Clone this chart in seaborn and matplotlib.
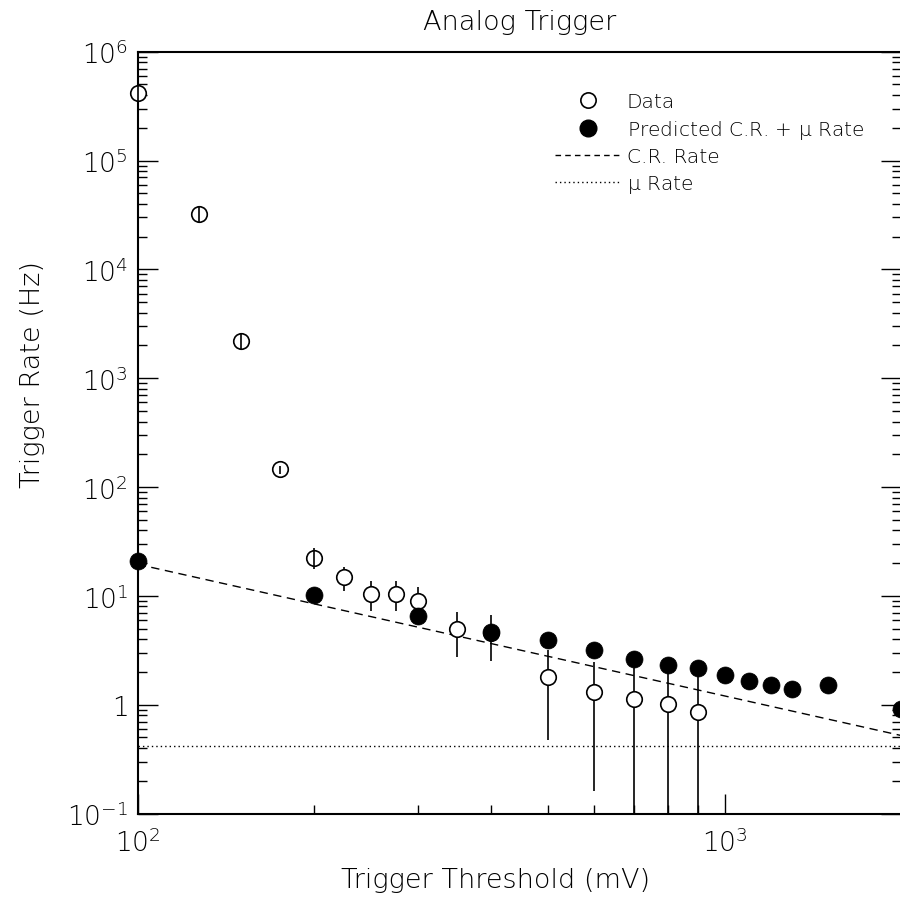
import matplotlib
matplotlib.use("Agg")
import matplotlib.pyplot as plt
from matplotlib import font_manager as fm
from matplotlib.lines import Line2D
from matplotlib.ticker import FixedLocator, FixedFormatter, LogLocator, NullFormatter
import seaborn as sns

# Measured trigger rates (open circles) with their error bars
data_threshold = [100, 127, 150, 175, 200, 225, 250, 275, 300, 350, 400, 500, 600, 700, 800, 900]
data_rate = [4.15e5, 3.24e4, 2220, 145, 22.5, 14.8, 10.4, 10.4, 9.0, 4.95, 4.6, 1.81, 1.32, 1.12, 1.01, 0.857]
data_err = [7.5e4, 5800, 400, 12, 4.9, 3.8, 3.2, 3.2, 3.0, 2.2, 2.1, 1.34, 1.16, 1.05, 1.0, 0.96]

# Predicted cosmic-ray + muon rate (filled circles)
pred_threshold = [100, 200, 300, 400, 500, 600, 700, 800, 900, 1000, 1100, 1200, 1300, 1500, 2000]
pred_rate = [20.7, 10.2, 6.47, 4.67, 3.95, 3.16, 2.64, 2.33, 2.17, 1.87, 1.66, 1.51, 1.38, 1.51, 0.913]

# Cosmic-ray rate (power law, straight in log-log) and constant muon rate
cr_threshold = [100, 2000]
cr_rate = [19.5, 0.52]
mu_threshold = [100, 2000]
mu_rate = [0.415, 0.415]

y_tick_values = [1e-1, 1, 1e1, 1e2, 1e3, 1e4, 1e5, 1e6]
y_tick_labels = [r"$10^{-1}$", r"$1$", r"$10^{1}$", r"$10^{2}$", r"$10^{3}$",
                 r"$10^{4}$", r"$10^{5}$", r"$10^{6}$"]
x_tick_values = [100, 1000]
x_tick_labels = [r"$10^{2}$", r"$10^{3}$"]

sns.set_theme(style="ticks")

# Prefer a wide, light sans-serif face when one is installed
family, weight = "DejaVu Sans", 400
choices = ["DejaVu Sans", "DejaVu Sans Light", "Open Sans", "Open Sans Light",
           "Lato", "Lato Light", "Roboto"]
for name in choices:
    found = [f for f in fm.fontManager.ttflist
             if f.name == name and isinstance(f.weight, int) and f.weight <= 300
             and f.style == "normal"]
    if found:
        family, weight = name, found[0].weight
        break

plt.rcParams["font.family"] = [family, "DejaVu Sans"]
plt.rcParams["font.weight"] = weight
plt.rcParams["mathtext.fontset"] = "custom"
plt.rcParams["mathtext.rm"] = f"{family}:weight={weight}"
plt.rcParams["mathtext.it"] = f"{family}:weight={weight}"
plt.rcParams["mathtext.default"] = "rm"
for key in ["text.color", "axes.labelcolor", "xtick.labelcolor", "ytick.labelcolor"]:
    plt.rcParams[key] = "black"

fig = plt.figure(figsize=(9.0, 9.03), dpi=100)
ax = fig.add_axes([0.153, 0.098, 0.8486, 0.8436])
ax.set_xscale("log")
ax.set_yscale("log")

# Reference lines
sns.lineplot(x=cr_threshold, y=cr_rate, ax=ax, color="black", linewidth=1.0, zorder=1)
ax.lines[-1].set_dashes([6, 4])
sns.lineplot(x=mu_threshold, y=mu_rate, ax=ax, color="black", linewidth=1.0, zorder=1)
ax.lines[-1].set_dashes([1, 2.2])

# Error bars: large ones sit behind the markers, tiny ones are drawn across them
small = [i for i, (v, e) in enumerate(zip(data_rate, data_err)) if e / v < 0.25]
large = [i for i in range(len(data_rate)) if i not in small]
ax.errorbar([data_threshold[i] for i in large], [data_rate[i] for i in large],
            yerr=[data_err[i] for i in large], fmt="none", ecolor="black",
            elinewidth=1.2, capsize=0, zorder=2)
ax.errorbar([data_threshold[i] for i in small], [data_rate[i] for i in small],
            yerr=[data_err[i] for i in small], fmt="none", ecolor="black",
            elinewidth=1.2, capsize=0, zorder=5, clip_on=False)

sns.scatterplot(x=data_threshold, y=data_rate, ax=ax, marker="o", s=125,
                color="white", edgecolor="black", linewidth=1.2, zorder=3, clip_on=False)
sns.scatterplot(x=pred_threshold, y=pred_rate, ax=ax, marker="o", s=150,
                color="black", edgecolor="black", linewidth=0.5, zorder=4, clip_on=False)

ax.set_xlim(100, 2000)
ax.set_ylim(0.1, 1e6)

ax.yaxis.set_major_locator(FixedLocator(y_tick_values))
ax.yaxis.set_major_formatter(FixedFormatter(y_tick_labels))
ax.yaxis.set_minor_locator(LogLocator(base=10, subs=range(2, 10), numticks=20))
ax.yaxis.set_minor_formatter(NullFormatter())
ax.xaxis.set_major_locator(FixedLocator(x_tick_values))
ax.xaxis.set_major_formatter(FixedFormatter(x_tick_labels))
ax.xaxis.set_minor_locator(LogLocator(base=10, subs=range(2, 10), numticks=20))
ax.xaxis.set_minor_formatter(NullFormatter())

ax.tick_params(axis="y", which="both", direction="in", left=True, right=True,
               color="black", width=1.0)
ax.tick_params(axis="x", which="both", direction="in", bottom=True, top=False,
               color="black", width=1.0)
ax.tick_params(which="major", length=14.4, labelsize=19, labelcolor="black")
ax.tick_params(which="minor", length=6.8)
ax.tick_params(axis="y", which="major", pad=7)
ax.tick_params(axis="x", which="major", pad=10)

for side in ["left", "right", "top", "bottom"]:
    ax.spines[side].set_visible(True)
    ax.spines[side].set_color("black")
    ax.spines[side].set_linewidth(1.5)

ax.set_title("Analog Trigger", fontsize=19.5, pad=16.5, color="black", fontweight=weight)
ax.set_xlabel("Trigger Threshold (mV)", fontsize=19.5, color="black", fontweight=weight)
ax.set_ylabel("Trigger Rate (Hz)", fontsize=19.5, color="black", fontweight=weight)
ax.xaxis.set_label_coords(0.468, -0.070)
ax.yaxis.set_label_coords(-0.121, 0.577)

handles = [
    Line2D([], [], linestyle="none", marker="o", markersize=11, markerfacecolor="white",
           markeredgecolor="black", markeredgewidth=1.2),
    Line2D([], [], linestyle="none", marker="o", markersize=12, markerfacecolor="black",
           markeredgecolor="black"),
    Line2D([], [], color="black", linewidth=1.0, dashes=[4, 3]),
    Line2D([], [], color="black", linewidth=1.0, dashes=[1, 2.2]),
]
labels = ["Data", r"Predicted C.R. + $\mathit{\mu}$ Rate", "C.R. Rate", r"$\mathit{\mu}$ Rate"]
leg = ax.legend(handles, labels, loc="upper left", bbox_to_anchor=(0.6167, 0.897),
                bbox_transform=fig.transFigure, frameon=False,
                handlelength=3.25, handletextpad=0.3, labelspacing=0.33,
                borderpad=0, borderaxespad=0, labelcolor="black",
                prop={"family": [family, "DejaVu Sans"], "weight": weight, "size": 14.5})

fig.savefig("out.png", dpi=100)
